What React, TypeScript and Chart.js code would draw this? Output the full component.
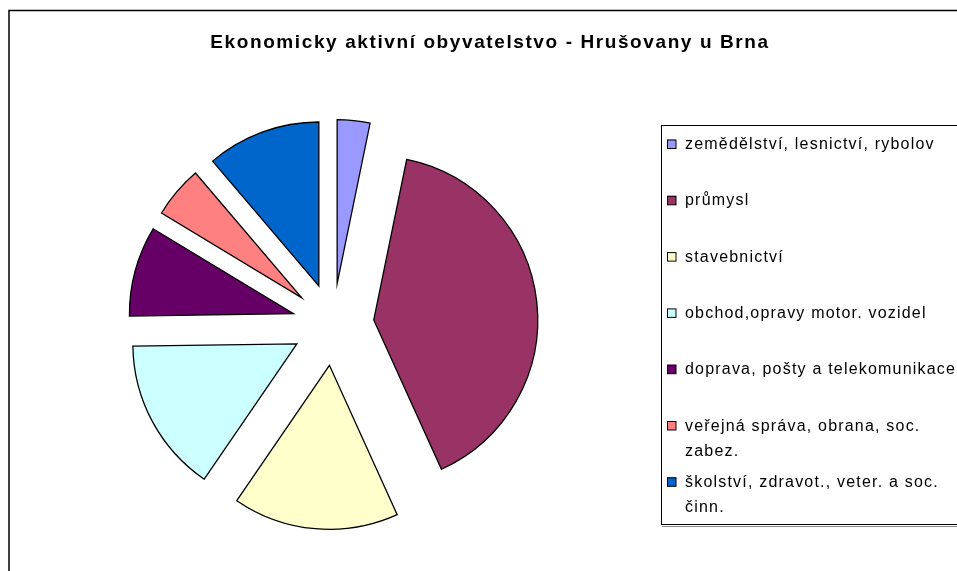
import React, { useEffect, useRef } from "react";
import { Chart, registerables } from "chart.js";

Chart.register(...registerables);

const TITLE = "Ekonomicky aktivní obyvatelstvo - Hrušovany u Brna";

const CATEGORIES = [
  "zemědělství, lesnictví, rybolov",
  "průmysl",
  "stavebnictví",
  "obchod,opravy motor. vozidel",
  "doprava, pošty a telekomunikace",
  "veřejná správa, obrana, soc. zabez.",
  "školství, zdravot., veter. a soc. činn.",
];

const VALUES = [29, 360, 147, 137, 80, 46, 101];

const COLORS = [
  "#9999FF",
  "#993366",
  "#FFFFCC",
  "#CCFFFF",
  "#660066",
  "#FF8080",
  "#0066CC",
];

const EXPLODE = 41;
const FONT = '"Liberation Sans", Arial, Helvetica, sans-serif';

const explodePlugin = {
  id: "explode",
  afterDatasetUpdate(chart: any, args: any) {
    const meta = args.meta;
    meta.data.forEach((arc: any) => {
      const mid = (arc.startAngle + arc.endAngle) / 2;
      arc.x += Math.cos(mid) * EXPLODE;
      arc.y += Math.sin(mid) * EXPLODE;
    });
  },
};

function wrapText(ctx: CanvasRenderingContext2D, text: string, maxW: number): string[] {
  const words = text.split(" ");
  const lines: string[] = [];
  let cur = "";
  for (const w of words) {
    const test = cur ? cur + " " + w : w;
    if (cur && ctx.measureText(test).width > maxW) {
      lines.push(cur);
      cur = w;
    } else {
      cur = test;
    }
  }
  if (cur) lines.push(cur);
  return lines;
}

const decorPlugin = {
  id: "decor",
  afterDraw(chart: any) {
    const ctx: CanvasRenderingContext2D = chart.ctx;
    ctx.save();
    // outer frame
    ctx.strokeStyle = "#000";
    ctx.lineWidth = 1.5;
    ctx.beginPath();
    ctx.moveTo(9, 700);
    ctx.lineTo(9, 10.5);
    ctx.lineTo(1100, 10.5);
    ctx.stroke();

    // title
    ctx.fillStyle = "#000";
    ctx.font = `bold 19px ${FONT}`;
    (ctx as any).letterSpacing = "1.6px";
    ctx.textAlign = "center";
    ctx.textBaseline = "alphabetic";
    ctx.fillText(TITLE, 490, 47.5);

    // legend box
    ctx.lineWidth = 1;
    ctx.strokeStyle = "#000";
    ctx.strokeRect(661.5, 125.5, 500, 399);
    ctx.strokeStyle = "#888";
    ctx.beginPath();
    ctx.moveTo(662, 526.5);
    ctx.lineTo(1100, 526.5);
    ctx.stroke();

    (ctx as any).letterSpacing = "1.2px";
    ctx.font = `16px ${FONT}`;
    ctx.textAlign = "left";
    const labels: string[] = chart.data.labels;
    const colors: string[] = chart.data.datasets[0].backgroundColor;
    labels.forEach((lab, i) => {
      const cy = 144 + i * 56.3;
      ctx.fillStyle = colors[i];
      ctx.fillRect(667, cy - 4.5, 9, 9);
      ctx.strokeStyle = "#000";
      ctx.lineWidth = 1;
      ctx.strokeRect(667.5, cy - 4, 8.5, 8.5);
      ctx.fillStyle = "#000";
      const lines = wrapText(ctx, lab, 282);
      lines.forEach((ln, j) => {
        ctx.fillText(ln, 685, cy + 5 + j * 25);
      });
    });
    ctx.restore();
  },
};

export default function App() {
  const ref = useRef<HTMLCanvasElement | null>(null);
  useEffect(() => {
    if (!ref.current) return;
    const chart = new Chart(ref.current, {
      type: "pie",
      data: {
        labels: CATEGORIES,
        datasets: [
          {
            data: VALUES,
            backgroundColor: COLORS,
            borderColor: "#000",
            borderWidth: 1.3,
            borderJoinStyle: "miter",
            radius: 164,
          } as any,
        ],
      },
      options: {
        responsive: false,
        animation: false,
        events: [],
        radius: 164,
        layout: { padding: { top: 78, bottom: 0, left: 0, right: 291 } },
        plugins: {
          legend: { display: false },
          title: { display: false },
          tooltip: { enabled: false },
        },
      } as any,
      plugins: [explodePlugin, decorPlugin],
    });
    return () => chart.destroy();
  }, []);
  return (
    <div style={{ position: "fixed", left: 0, top: 0, width: 957, height: 571, background: "#fff" }}>
      <canvas ref={ref} width={957} height={571} style={{ width: 957, height: 571, display: "block" }} />
    </div>
  );
}
